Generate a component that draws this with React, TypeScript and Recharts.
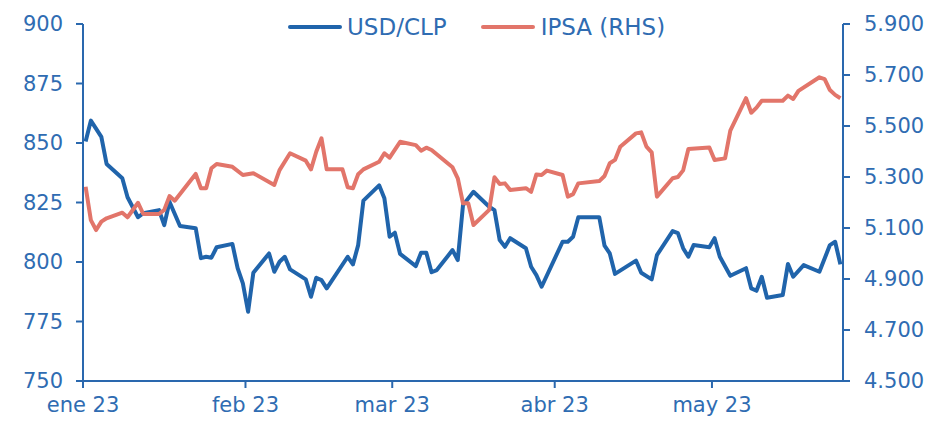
import React from 'react';
import { LineChart, Line, XAxis, YAxis } from 'recharts';

// Days counted from 1 Jan 2023 (= 0); points are business days
const monthLabels = ['ene 23', 'feb 23', 'mar 23', 'abr 23', 'may 23'];
const monthTickDays = [1, 32, 60, 91, 121];

const leftTicks = [750, 775, 800, 825, 850, 875, 900];
const rightTicks = [4500, 4700, 4900, 5100, 5300, 5500, 5700, 5900];

const usdDays = [
  1, 2, 4, 5, 8, 9, 11, 12, 15, 16,
  17, 19, 22, 23, 24, 25, 26, 29, 30, 31,
  32, 33, 36, 37, 38, 39, 40, 43, 44, 45,
  46, 47, 51, 52, 53, 54, 57, 58, 59, 60,
  61, 64, 65, 66, 67, 68, 71, 72, 73, 75,
  78, 79, 80, 81, 82, 85, 86, 87, 88, 92,
  93, 94, 95, 99, 100, 101, 102, 106, 107, 109,
  110, 113, 114, 115, 116, 117, 120, 121, 122, 124,
  127, 128, 129, 130, 131, 134, 135, 136, 138, 141,
  143, 144, 145,
];
const usdValues = [
  850.6, 859.4, 852.6, 841.2, 835.2, 827.2, 818.8, 820.5, 821.8, 815.5,
  825.3, 815.1, 814.2, 801.6, 802.2, 801.8, 806.2, 807.6, 797.4, 791.0,
  779.1, 795.5, 803.6, 795.9, 800.1, 802.2, 796.9, 792.7, 785.4, 793.4,
  792.4, 788.9, 802.2, 799.0, 807.1, 825.8, 832.2, 826.8, 810.6, 812.3,
  803.4, 798.3, 803.9, 803.9, 795.7, 796.6, 805.0, 800.8, 823.9, 829.5,
  823.2, 821.8, 809.2, 806.4, 810.0, 805.8, 798.0, 794.5, 789.6, 808.5,
  808.5, 810.6, 818.8, 818.8, 806.9, 803.6, 795.0, 800.6, 795.5, 792.7,
  802.9, 813.0, 812.1, 805.8, 802.2, 807.1, 806.2, 810.0, 802.2, 794.2,
  797.4, 788.9, 787.9, 793.8, 785.0, 786.1, 799.2, 793.8, 798.7, 795.9,
  807.1, 808.5, 799.0,
];

const ipsaDays = [
  1, 2, 3, 4, 5, 8, 9, 11, 12, 15,
  16, 17, 18, 22, 23, 24, 25, 26, 29, 31,
  33, 37, 38, 40, 43, 44, 45, 46, 47, 50,
  51, 52, 53, 54, 57, 58, 59, 61, 64, 65,
  66, 67, 71, 72, 73, 74, 75, 78, 79, 80,
  81, 82, 85, 86, 87, 88, 89, 92, 93, 94,
  95, 99, 100, 101, 102, 103, 106, 107, 108, 109,
  110, 113, 114, 115, 116, 120, 121, 123, 124, 127,
  128, 129, 130, 134, 135, 136, 137, 141, 142, 143,
  144, 145,
];
const ipsaValues = [
  5262, 5131, 5092, 5125, 5138, 5160, 5142, 5199, 5155, 5155,
  5171, 5225, 5207, 5312, 5256, 5256, 5334, 5351, 5340, 5308,
  5315, 5269, 5327, 5393, 5364, 5330, 5399, 5452, 5330, 5330,
  5260, 5256, 5311, 5330, 5360, 5393, 5376, 5438, 5425, 5403,
  5415, 5406, 5338, 5295, 5197, 5197, 5112, 5171, 5299, 5273,
  5275, 5249, 5256, 5242, 5310, 5308, 5325, 5308, 5223, 5233,
  5275, 5284, 5304, 5354, 5367, 5419, 5471, 5475, 5419, 5397,
  5223, 5295, 5300, 5326, 5410, 5416, 5367, 5373, 5482, 5609,
  5552, 5572, 5599, 5599, 5619, 5606, 5638, 5691, 5684, 5641,
  5622, 5609,
];

const BLUE = '#2064ab';
const RED = '#e2756a';
const AXIS = '#2a68ae';
const TEXT = '#2f6cb2';
const FONT = 'DejaVu Sans';
const FS = 21;

const fmtThousands = (v: number) => {
  const s = String(Math.round(v));
  return s.length > 3 ? s.slice(0, s.length - 3) + '.' + s.slice(-3) : s;
};

export default function App() {
  const usdData = usdDays.map((day, i) => ({ day, usd: usdValues[i] }));
  const ipsaData = ipsaDays.map((day, i) => ({ day, ipsa: ipsaValues[i] }));
  const xTicks = monthTickDays.map((d) => d - 0.5);
  const tickStyle = { fill: TEXT, fontSize: FS, fontFamily: FONT };
  const lineStyle = { stroke: AXIS, strokeWidth: 2 };

  return (
    <div style={{ position: 'absolute', left: 0, top: 0, width: 946, height: 421, fontFamily: FONT }}>
      <LineChart width={946} height={421} margin={{ top: 24, right: 0, bottom: 0, left: 0 }}>
        <XAxis
          type="number"
          dataKey="day"
          domain={[0.5, 145.5]}
          ticks={xTicks}
          tickFormatter={(v: number) => monthLabels[xTicks.indexOf(v)] ?? ''}
          height={40}
          axisLine={lineStyle}
          tickLine={lineStyle}
          tickSize={7}
          tickMargin={9}
          tick={tickStyle}
          allowDataOverflow
        />
        <YAxis
          yAxisId="left"
          domain={[750, 900]}
          ticks={leftTicks}
          width={83}
          axisLine={lineStyle}
          tickLine={lineStyle}
          tickSize={7}
          tickMargin={13}
          tick={tickStyle}
          allowDataOverflow
        />
        <YAxis
          yAxisId="right"
          orientation="right"
          domain={[4500, 5900]}
          ticks={rightTicks}
          width={103}
          axisLine={lineStyle}
          tickLine={lineStyle}
          tickSize={7}
          tickMargin={14}
          tick={tickStyle}
          tickFormatter={fmtThousands}
          allowDataOverflow
        />
        <Line
          data={usdData}
          dataKey="usd"
          name="USD/CLP"
          yAxisId="left"
          type="linear"
          stroke={BLUE}
          strokeWidth={4}
          strokeLinejoin="round"
          dot={false}
          activeDot={false}
          isAnimationActive={false}
        />
        <Line
          data={ipsaData}
          dataKey="ipsa"
          name="IPSA (RHS)"
          yAxisId="right"
          type="linear"
          stroke={RED}
          strokeWidth={4}
          strokeLinejoin="round"
          dot={false}
          activeDot={false}
          isAnimationActive={false}
        />
      </LineChart>
      <div style={{ position: 'absolute', left: 288, top: 12, height: 30, display: 'flex', alignItems: 'center', color: TEXT, fontSize: 23, whiteSpace: 'nowrap' }}>
        <span style={{ display: 'inline-block', width: 54, height: 4, background: BLUE, borderRadius: 2, marginRight: 5 }} />
        <span>USD/CLP</span>
        <span style={{ display: 'inline-block', width: 54, height: 4, background: RED, borderRadius: 2, marginLeft: 34, marginRight: 6 }} />
        <span>IPSA (RHS)</span>
      </div>
    </div>
  );
}
